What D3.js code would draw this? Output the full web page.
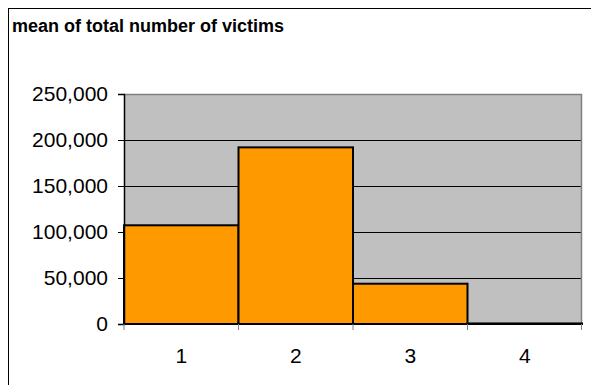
<!DOCTYPE html>
<html>
<head>
<meta charset="utf-8">
<script src="https://cdn.jsdelivr.net/npm/d3@7"></script>
<style>
  html, body { margin: 0; padding: 0; background: #fff; }
  svg { display: block; font-family: Arial, "Liberation Sans", sans-serif; }
</style>
</head>
<body>
<svg id="chart" width="591" height="385"></svg>
<script>
// Groups and their mean victim counts
const categories = ["1", "2", "3", "4"];
const meanVictims = [107300, 192000, 43800, 600];
const yTicks = [0, 50000, 100000, 150000, 200000, 250000];
const chartTitle = "mean of total number of victims";

const svg = d3.select("#chart");
const plot = { left: 124, right: 582, top: 94, bottom: 324 };

// Outer frame (runs past the right and bottom edges)
svg.append("rect")
  .attr("x", 8.5).attr("y", 8.5)
  .attr("width", 600).attr("height", 400)
  .attr("fill", "#fff").attr("stroke", "#000").attr("stroke-width", 1);

svg.append("text")
  .attr("x", 12).attr("y", 32)
  .attr("font-size", 18).attr("font-weight", "bold")
  .text(chartTitle);

const x = d3.scaleBand().domain(categories).range([plot.left, plot.right]).padding(0);
const y = d3.scaleLinear().domain([0, 250000]).range([plot.bottom, plot.top]);

// Plot background
svg.append("rect")
  .attr("x", plot.left).attr("y", plot.top)
  .attr("width", plot.right - plot.left).attr("height", plot.bottom - plot.top)
  .attr("fill", "#c0c0c0");

// Horizontal gridlines
svg.append("g")
  .selectAll("line")
  .data(yTicks.filter(d => d > 0 && d < 250000))
  .join("line")
  .attr("x1", plot.left).attr("x2", plot.right)
  .attr("y1", d => Math.round(y(d)) + 0.5).attr("y2", d => Math.round(y(d)) + 0.5)
  .attr("stroke", "#000").attr("stroke-width", 1);

// Plot border top and right
svg.append("path")
  .attr("d", `M${plot.left},${plot.top + 0.5}H${plot.right - 0.5}V${plot.bottom}`)
  .attr("fill", "none").attr("stroke", "#808080").attr("stroke-width", 1.5);

// Bars
svg.append("g")
  .selectAll("rect")
  .data(meanVictims)
  .join("rect")
  .attr("x", (d, i) => x(categories[i]))
  .attr("y", d => y(d))
  .attr("width", x.bandwidth())
  .attr("height", d => y(0) - y(d))
  .attr("fill", "#ff9900")
  .attr("stroke", "#000").attr("stroke-width", 2);

// Y axis
const yAxis = d3.axisLeft(y)
  .tickValues(yTicks)
  .tickFormat(d3.format(","))
  .tickSize(6)
  .tickPadding(10);
const gy = svg.append("g").attr("transform", `translate(${plot.left},0)`).call(yAxis);
gy.select(".domain").attr("stroke", "#000").attr("stroke-width", 1.5);
gy.selectAll(".tick line").attr("stroke", "#000");
gy.selectAll(".tick text").attr("font-size", 21).attr("fill", "#000")
  .attr("font-family", "Arial, 'Liberation Sans', sans-serif");

// X axis baseline and boundary ticks
svg.append("line")
  .attr("x1", plot.left).attr("x2", plot.right)
  .attr("y1", plot.bottom).attr("y2", plot.bottom)
  .attr("stroke", "#000").attr("stroke-width", 2);

const boundaries = categories.map(c => x(c)).concat([plot.right - 0.5]);
svg.append("g")
  .selectAll("line")
  .data(boundaries)
  .join("line")
  .attr("x1", d => d).attr("x2", d => d)
  .attr("y1", plot.bottom).attr("y2", plot.bottom + 6)
  .attr("stroke", "#808080").attr("stroke-width", 1);

svg.append("g")
  .selectAll("text")
  .data(categories)
  .join("text")
  .attr("x", d => x(d) + x.bandwidth() / 2)
  .attr("y", 363)
  .attr("text-anchor", "middle")
  .attr("font-size", 21)
  .text(d => d);
</script>
</body>
</html>
